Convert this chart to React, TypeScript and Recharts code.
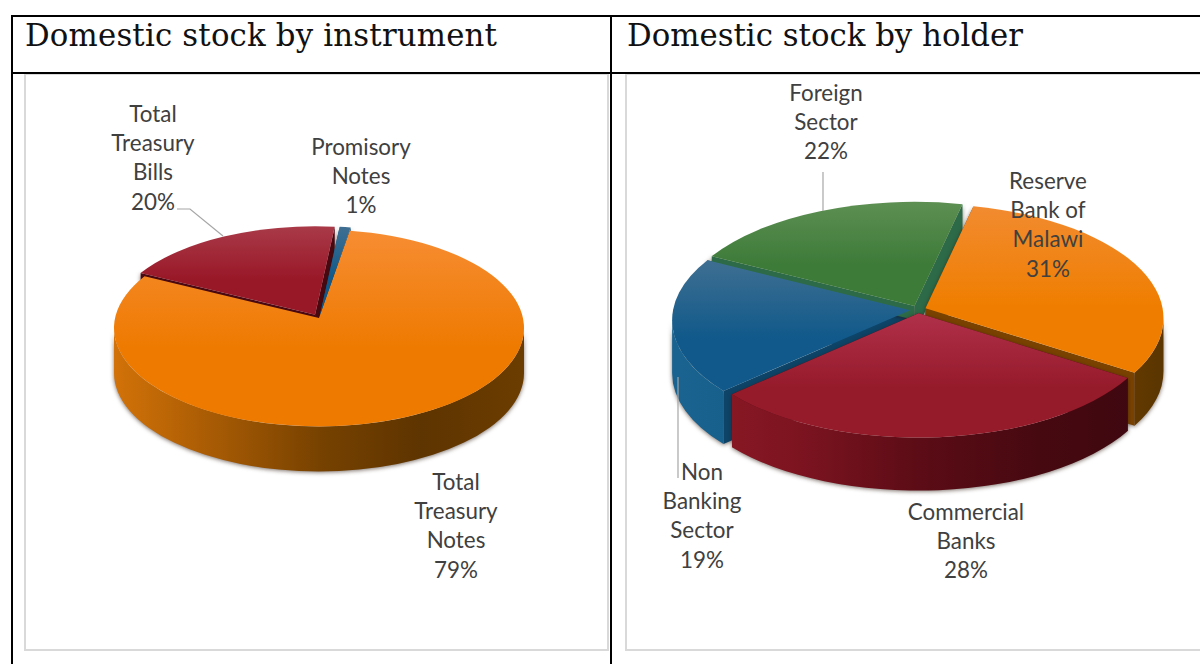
import React from 'react'
import { PieChart, Pie, Cell } from 'recharts'

const instrumentNames = ['Total Treasury Notes', 'Total Treasury Bills', 'Promisory Notes']
const instrumentShares = [79, 20, 1]
const instrumentLines = [['Total', 'Treasury', 'Notes'], ['Total', 'Treasury', 'Bills'], ['Promisory', 'Notes']]

const holderNames = ['Reserve Bank of Malawi', 'Commercial Banks', 'Non Banking Sector', 'Foreign Sector']
const holderShares = [31, 28, 19, 22]
const holderLines = [['Reserve', 'Bank of', 'Malawi'], ['Commercial', 'Banks'], ['Non', 'Banking', 'Sector'], ['Foreign', 'Sector']]

const LABEL_FONT = 'Lato, "Open Sans", sans-serif'
const LABEL_SIZE = 22.4
const LINE_STEP = 29.4
const TILT = 0.48
// the disc is seen in perspective, so the near half of the rim looks stretched
const PERSPECTIVE = 8

type Tone = { top: [string, string]; wall: string[]; side: string }

const ORANGE_LEFT: Tone = { top: ['#f78d33', '#ee7a00'], wall: ['#d27208', '#a65a04', '#774200', '#5e3400', '#6c3d00'], side: '#6e3c02' }
const ORANGE_RIGHT: Tone = { top: ['#f28b30', '#ef7e00'], wall: ['#8a4c02', '#8a4c02', '#8a4c02', '#7a4500', '#5c3600'], side: '#7a4200' }
const RED_LEFT: Tone = { top: ['#a93a48', '#991828'], wall: ['#5a0a12', '#5a0a12', '#5a0a12', '#5a0a12', '#5a0a12'], side: '#4a0810' }
const RED_RIGHT: Tone = { top: ['#b0304a', '#951a2a'], wall: ['#8e1a26', '#7c1420', '#5c0c16', '#470910', '#3d0710'], side: '#4c0a12' }
const BLUE: Tone = { top: ['#3f6f92', '#10598a'], wall: ['#1a6390', '#125a85', '#0f4f75', '#0f4f75', '#0f4f75'], side: '#0d4468' }
const GREEN: Tone = { top: ['#5d8f52', '#3d7b39'], wall: ['#2a5a28', '#2a5a28', '#2a5a28', '#2a5a28', '#2a5a28'], side: '#2c6a48' }

type Placed = { x: number; y: number; leader?: [number, number][] }

// label anchors and leader lines, in page pixels
const instrumentPlaced: Placed[] = [
  { x: 456, y: 481 },
  { x: 153, y: 113, leader: [[177, 209], [190, 209], [223, 236]] },
  { x: 361, y: 146 },
]
const holderPlaced: Placed[] = [
  { x: 1048, y: 180 },
  { x: 966, y: 511 },
  { x: 702, y: 471, leader: [[678, 377], [678, 478]] },
  { x: 826, y: 92, leader: [[823, 172], [823, 211]] },
]

const warp = (deg: number) => deg + PERSPECTIVE * Math.cos((deg * Math.PI) / 180)

const arcPoint = (cx: number, cy: number, rx: number, ry: number, deg: number) => {
  const r = (deg * Math.PI) / 180
  return [cx + rx * Math.cos(r), cy - ry * Math.sin(r)]
}

// parts of the [end, start] angle range that face the viewer (lower half of the ellipse)
const frontRanges = (start: number, end: number) => {
  const out: [number, number][] = []
  for (let k = -2; k <= 1; k++) {
    const hi = Math.min(start, 360 * k)
    const lo = Math.max(end, 360 * k - 180)
    if (hi > lo) out.push([hi, lo])
  }
  return out
}

// slices at the back only show a sliver of wall through the gaps
const backWallDepth = (deg: number) => (Math.abs(Math.cos((deg * Math.PI) / 180)) < 0.5 ? 28 : 14)

type Geometry = { lift: number; depth: number; explode: number[] }

const sliceGeometry = (p: any, g: Geometry, index: number) => {
  const rx = p.outerRadius
  const ry = rx * TILT
  const mid = ((p.startAngle + p.endAngle) / 2) * (Math.PI / 180)
  const e = g.explode[index] ?? 0
  const cx = p.cx + e * Math.cos(mid)
  const cy = p.cy - e * TILT * Math.sin(mid)
  return { rx, ry, cx, cy, apex: [cx, cy - g.lift], from: warp(p.startAngle), to: warp(p.endAngle) }
}

const sectorPath = (s: ReturnType<typeof sliceGeometry>, dy = 0) => {
  const a = arcPoint(s.cx, s.cy + dy, s.rx, s.ry, s.from)
  const b = arcPoint(s.cx, s.cy + dy, s.rx, s.ry, s.to)
  const large = Math.abs(s.from - s.to) > 180 ? 1 : 0
  return `M${s.apex[0]},${s.apex[1] + dy}L${a[0]},${a[1]}A${s.rx},${s.ry} 0 ${large} 1 ${b[0]},${b[1]}Z`
}

function PiePanel({ id, left, width, names, shares, lines, placed, tones, cx, cy, radius, startAngle, geometry, wallFirst = 0 }: any) {
  const top = 74
  const height = 576
  const data = names.map((name: string, i: number) => ({ name, value: shares[i], slot: i }))

  // walls are painted back to front, so the ring starts at slice `wallFirst`
  const wallData = [...data.slice(wallFirst), ...data.slice(0, wallFirst)]
  const total = shares.reduce((a: number, b: number) => a + b, 0)
  const skipped = shares.slice(0, wallFirst).reduce((a: number, b: number) => a + b, 0)
  const wallStart = startAngle - (360 * skipped) / total

  const renderWall = (p: any) => {
    const i = p.payload?.slot ?? p.slot
    const s = sliceGeometry(p, geometry, i)
    const tone: Tone = tones[i]
    const front = frontRanges(s.from, s.to)
    const edge = (deg: number) => {
      const sideDepth = front.length ? geometry.depth : backWallDepth(deg)
      const q = arcPoint(s.cx, s.cy, s.rx, s.ry, deg)
      const [ax, ay] = s.apex
      return `M${ax},${ay}L${q[0]},${q[1]}L${q[0]},${q[1] + sideDepth}L${ax},${ay + sideDepth}Z`
    }
    return (
      <g style={{ filter: 'drop-shadow(0 1px 2px rgba(40,20,10,0.6))' }}>
        <path d={edge(s.from)} fill={tone.side} />
        <path d={edge(s.to)} fill={tone.side} />
        {front.map(([hi, lo], k) => {
          const a = arcPoint(s.cx, s.cy, s.rx, s.ry, hi)
          const b = arcPoint(s.cx, s.cy, s.rx, s.ry, lo)
          const d = `M${a[0]},${a[1]}A${s.rx},${s.ry} 0 0 1 ${b[0]},${b[1]}L${b[0]},${b[1] + geometry.depth}A${s.rx},${s.ry} 0 0 0 ${a[0]},${a[1] + geometry.depth}Z`
          return <path key={k} d={d} fill={`url(#${id}-wall-${i})`} />
        })}
      </g>
    )
  }

  const renderTop = (p: any) => {
    const i = p.payload?.slot ?? p.slot
    const s = sliceGeometry(p, geometry, i)
    return <path d={sectorPath(s)} fill={`url(#${id}-top-${i})`} />
  }

  const renderLabel = (p: any) => {
    const i = p.payload?.slot ?? p.slot ?? p.index
    const spot: Placed = placed[i]
    const text = [...lines[i], `${shares[i]}%`]
    return (
      <g key={i}>
        {spot.leader && (
          <polyline
            points={spot.leader.map(([x, y]) => `${x - left},${y - top}`).join(' ')}
            fill="none"
            stroke="#a6a6a6"
            strokeWidth={1.2}
          />
        )}
        {text.map((line: string, n: number) => (
          <text
            key={n}
            x={spot.x - left}
            y={spot.y - top + n * LINE_STEP}
            textAnchor="middle"
            dominantBaseline="central"
            fontFamily={LABEL_FONT}
            fontSize={LABEL_SIZE}
            fill="#404040"
          >
            {line}
          </text>
        ))}
      </g>
    )
  }

  const pieProps = {
    dataKey: 'value',
    nameKey: 'name',
    cx: cx - left,
    cy: cy - top,
    innerRadius: 0,
    outerRadius: radius,
    stroke: 'none',
    isAnimationActive: false,
    labelLine: false,
  }

  return (
    <div
      style={{
        position: 'absolute',
        left,
        top,
        width,
        height,
        outline: '2px solid #d9d9d9',
        outlineOffset: -1,
      }}
    >
      <PieChart width={width} height={height} margin={{ top: 0, right: 0, bottom: 0, left: 0 }}>
        <defs>
          {tones.map((tone: Tone, i: number) => (
            <React.Fragment key={i}>
              <linearGradient id={`${id}-top-${i}`} x1="0" x2="0" y1="0" y2="1">
                <stop offset="0%" stopColor={tone.top[0]} />
                <stop offset="60%" stopColor={tone.top[1]} />
              </linearGradient>
              <linearGradient id={`${id}-wall-${i}`} gradientUnits="userSpaceOnUse" x1={cx - left - radius} x2={cx - left + radius} y1="0" y2="0">
                {tone.wall.map((c, k) => (
                  <stop key={k} offset={`${(k / (tone.wall.length - 1)) * 100}%`} stopColor={c} />
                ))}
              </linearGradient>
            </React.Fragment>
          ))}
        </defs>
        <Pie {...pieProps} data={wallData} startAngle={wallStart} endAngle={wallStart - 360} shape={renderWall}>
          {wallData.map((d: any) => <Cell key={d.name} fill={tones[d.slot].side} />)}
        </Pie>
        <Pie {...pieProps} data={data} startAngle={startAngle} endAngle={startAngle - 360} shape={renderTop} label={renderLabel}>
          {data.map((d: any) => <Cell key={d.name} fill={tones[d.slot].top[1]} />)}
        </Pie>
      </PieChart>
    </div>
  )
}

const titleStyle: React.CSSProperties = {
  position: 'absolute',
  top: 15,
  fontFamily: '"DejaVu Serif", serif',
  fontSize: 30.8,
  lineHeight: '40px',
  color: '#111',
  whiteSpace: 'nowrap',
}

const rule = (left: number, top: number, width: number, height: number): React.CSSProperties => ({
  position: 'absolute',
  left,
  top,
  width,
  height,
  background: '#000',
})

export default function App() {
  return (
    <div style={{ position: 'absolute', left: 0, top: 0, width: 1200, height: 664, overflow: 'hidden', background: '#fff' }}>
      <div style={titleStyle as any}>
        <span style={{ position: 'absolute', left: 25, letterSpacing: 0.18 }}>Domestic stock by instrument</span>
        <span style={{ position: 'absolute', left: 627 }}>Domestic stock by holder</span>
      </div>

      <PiePanel
        id="instrument"
        left={25}
        width={583}
        names={instrumentNames}
        shares={instrumentShares}
        lines={instrumentLines}
        placed={instrumentPlaced}
        tones={[ORANGE_LEFT, RED_LEFT, BLUE]}
        cx={319}
        cy={328}
        radius={205}
        startAngle={80}
        geometry={{ lift: 10, depth: 45, explode: [0, 8, 7] }}
      />
      <PiePanel
        id="holder"
        left={626}
        width={600}
        names={holderNames}
        shares={holderShares}
        lines={holderLines}
        placed={holderPlaced}
        tones={[ORANGE_RIGHT, RED_RIGHT, BLUE, GREEN]}
        cx={918}
        cy={319.5}
        radius={238}
        startAngle={76.5}
        geometry={{ lift: 10, depth: 53, explode: [8, 8, 8, 8] }}
        wallFirst={2}
      />

      <div style={rule(11, 15, 1189, 2)} />
      <div style={rule(11, 72, 1189, 2)} />
      <div style={rule(11, 15, 2, 649)} />
      <div style={rule(610, 15, 2, 649)} />
    </div>
  )
}
